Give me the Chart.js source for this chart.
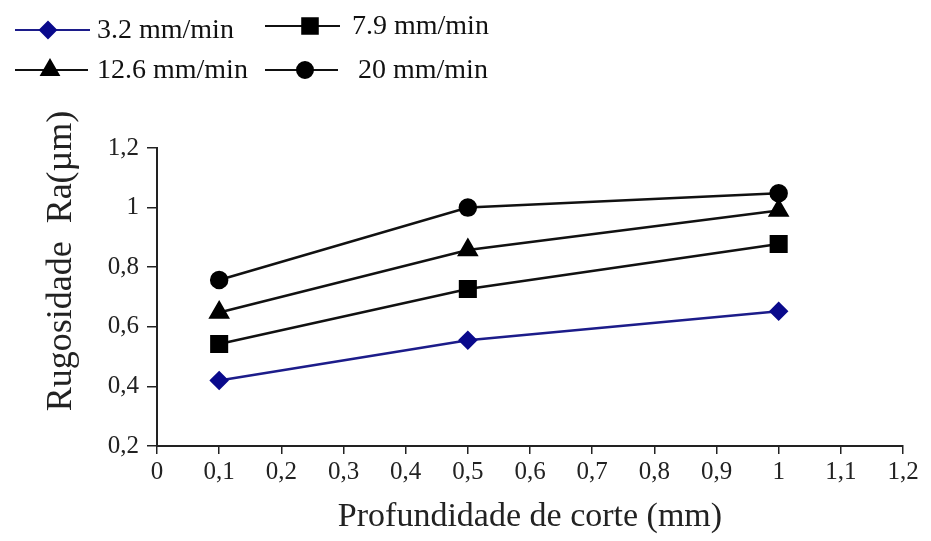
<!DOCTYPE html>
<html>
<head>
<meta charset="utf-8">
<script src="https://cdn.jsdelivr.net/npm/chart.js@4.4.0/dist/chart.umd.min.js"></script>
<style>
  body { margin: 0; background: #fff; }
  #wrap { width: 931px; height: 541px; position: relative; }
</style>
</head>
<body>
<div id="wrap"><canvas id="roughChart"></canvas></div>
<script>
const depths = [0.1, 0.5, 1];
const speeds = ["3.2 mm/min", "7.9 mm/min", "12.6 mm/min", "20 mm/min"];
const ra32 = [0.42, 0.555, 0.652];
const ra79 = [0.542, 0.727, 0.878];
const ra126 = [0.648, 0.858, 0.99];
const ra20 = [0.757, 1.0, 1.048];

const serif = "'Liberation Serif', 'DejaVu Serif', serif";
const comma = (v) => String(Math.round(v * 10) / 10).replace(".", ",");
const toPoints = (arr) => arr.map((y, i) => ({ x: depths[i], y: y }));

const styles = [
  { data: ra32, color: "#1c1c8a", fill: "#0a0a8c", point: "rectRot", r: 8 },
  { data: ra79, color: "#111", fill: "#000", point: "rect", r: 11 },
  { data: ra126, color: "#111", fill: "#000", point: "triangle", r: 10 },
  { data: ra20, color: "#111", fill: "#000", point: "circle", r: 8 },
];

// legend drawn by hand: line + marker + text, two rows of two
const legendSpots = [
  { x1: 15, x2: 90, mx: 48, tx: 97, y: 30 },
  { x1: 265, x2: 340, mx: 310, tx: 352, y: 26 },
  { x1: 15, x2: 88, mx: 50, tx: 97, y: 70 },
  { x1: 265, x2: 338, mx: 305, tx: 358, y: 70 },
];
const legendPlugin = {
  id: "handLegend",
  afterDraw(chart) {
    const c = chart.ctx;
    chart.data.datasets.forEach((ds, i) => {
      const p = legendSpots[i];
      c.save();
      c.strokeStyle = ds.borderColor;
      c.lineWidth = 2;
      c.beginPath();
      c.moveTo(p.x1, p.y);
      c.lineTo(p.x2, p.y);
      c.stroke();
      c.fillStyle = ds.pointBackgroundColor;
      c.strokeStyle = ds.pointBorderColor;
      Chart.helpers.drawPoint(c, { pointStyle: ds.pointStyle, radius: ds.pointRadius, borderWidth: 1 }, p.mx, p.y);
      c.fillStyle = "#111";
      c.font = "28px " + serif;
      c.textBaseline = "middle";
      c.fillText(ds.label, p.tx, p.y + 1);
      c.restore();
    });
  },
};

new Chart(document.getElementById("roughChart"), {
  type: "line",
  data: {
    datasets: styles.map((s, i) => ({
      label: speeds[i],
      data: toPoints(s.data),
      borderColor: s.color,
      borderWidth: 2.5,
      pointStyle: s.point,
      pointRadius: s.r,
      pointBackgroundColor: s.fill,
      pointBorderColor: s.fill,
      tension: 0,
    })),
  },
  options: {
    responsive: true,
    maintainAspectRatio: false,
    animation: false,
    layout: { padding: { top: 148, right: 28, left: 0, bottom: 0 } },
    plugins: { legend: { display: false }, tooltip: { enabled: false } },
    scales: {
      x: {
        type: "linear",
        min: 0,
        max: 1.2,
        afterFit: (s) => { s.height = 95; },
        border: { color: "#222", width: 2 },
        grid: { drawOnChartArea: false, color: "#222", tickLength: 8, lineWidth: 1.5 },
        ticks: { stepSize: 0.1, color: "#222", font: { family: serif, size: 25 }, padding: 3, callback: (v) => comma(v) },
        title: { display: true, text: "Profundidade de corte (mm)", color: "#222", font: { family: serif, size: 34 }, padding: { top: 0 } },
      },
      y: {
        min: 0.2,
        max: 1.2,
        afterFit: (s) => { s.width = 157; },
        border: { color: "#222", width: 2 },
        grid: { drawOnChartArea: false, color: "#222", tickLength: 10, lineWidth: 1.5 },
        ticks: { stepSize: 0.2, color: "#222", font: { family: serif, size: 25 }, padding: 8, callback: (v) => comma(v) },
        // leading spaces push the visible title up, as in the original
        title: { display: true, text: "        Rugosidade  Ra(µm)", color: "#222", font: { family: serif, size: 36 }, padding: { top: 40 } },
      },
    },
  },
  plugins: [legendPlugin],
});
</script>
</body>
</html>
